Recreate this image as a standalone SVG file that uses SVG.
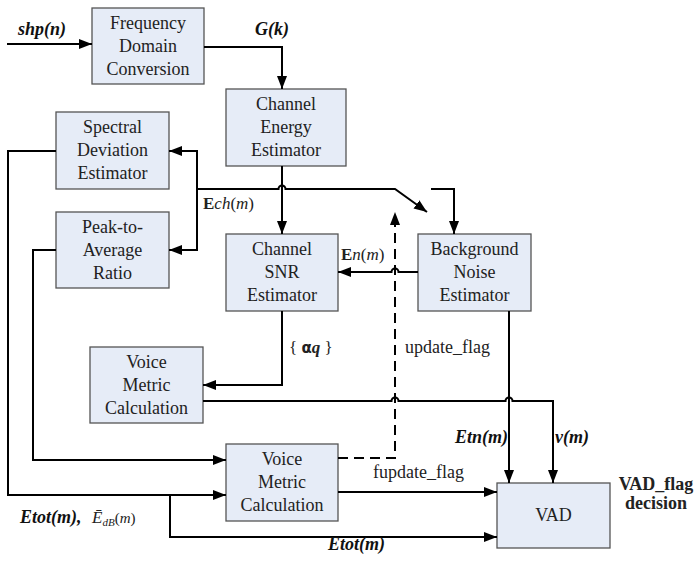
<svg xmlns="http://www.w3.org/2000/svg" width="698" height="561" viewBox="0 0 698 561">
<style>
text{font-family:'Liberation Serif','Times New Roman',Tinos,'DejaVu Serif',serif}
.box{fill:#E6ECF7;stroke:#555;stroke-width:1.3}
.bt{font-size:18px;fill:#222;text-anchor:middle}
.ln{fill:none;stroke:#000;stroke-width:2}
.dash{stroke-dasharray:10,6}
.lb{font-size:18px;font-weight:bold;font-style:italic;fill:#111}
.lr{font-size:18px;fill:#222}
.ls{font-size:17px;fill:#222}
</style>
<defs>
<marker id="ar" markerUnits="userSpaceOnUse" markerWidth="14" markerHeight="12" refX="13" refY="5" orient="auto">
<path d="M0,0 L13,5 L0,10 z" fill="#000"/>
</marker>
</defs>
<rect width="698" height="561" fill="#fff"/>

<g id="freq"><rect class="box" x="92" y="8" width="112" height="76"/>
<text class="bt" x="148" y="29">Frequency</text><text class="bt" x="148" y="52">Domain</text><text class="bt" x="148" y="75">Conversion</text></g>

<g id="energy"><rect class="box" x="226" y="89" width="120" height="77"/>
<text class="bt" x="286" y="110">Channel</text><text class="bt" x="286" y="133">Energy</text><text class="bt" x="286" y="156">Estimator</text></g>

<g id="spectral"><rect class="box" x="56" y="112" width="113" height="77"/>
<text class="bt" x="112.5" y="133">Spectral</text><text class="bt" x="112.5" y="156">Deviation</text><text class="bt" x="112.5" y="179">Estimator</text></g>

<g id="peak"><rect class="box" x="56" y="212" width="113" height="76"/>
<text class="bt" x="112.5" y="233">Peak-to-</text><text class="bt" x="112.5" y="256">Average</text><text class="bt" x="112.5" y="279">Ratio</text></g>

<g id="snr"><rect class="box" x="226" y="234" width="112" height="77"/>
<text class="bt" x="282" y="255">Channel</text><text class="bt" x="282" y="278">SNR</text><text class="bt" x="282" y="301">Estimator</text></g>

<g id="bne"><rect class="box" x="418" y="234" width="113" height="77"/>
<text class="bt" x="474.5" y="255">Background</text><text class="bt" x="474.5" y="278">Noise</text><text class="bt" x="474.5" y="301">Estimator</text></g>

<g id="vmc1"><rect class="box" x="90" y="347" width="113" height="76"/>
<text class="bt" x="146.5" y="368">Voice</text><text class="bt" x="146.5" y="391">Metric</text><text class="bt" x="146.5" y="414">Calculation</text></g>

<g id="vmc2"><rect class="box" x="226" y="444" width="112" height="77"/>
<text class="bt" x="282" y="465">Voice</text><text class="bt" x="282" y="488">Metric</text><text class="bt" x="282" y="511">Calculation</text></g>

<g id="vad"><rect class="box" x="497" y="483" width="113" height="65"/>
<text class="bt" x="553.5" y="521">VAD</text></g>

<g id="connectors">
<path class="ln" d="M7,44 H92" marker-end="url(#ar)"/>
<path class="ln" d="M204,47 H282 V89" marker-end="url(#ar)"/>
<path class="ln" d="M282,166 V234" marker-end="url(#ar)"/>
<path class="ln" d="M197,189 V151 H169" marker-end="url(#ar)"/>
<path class="ln" d="M197,189 V250 H169" marker-end="url(#ar)"/>
<path class="ln" d="M197,189 H278.5 a3.5,3.5 0 0 1 7,0 H395 L427,212" marker-end="url(#ar)"/>
<path class="ln" d="M431,189 H454 V234" marker-end="url(#ar)"/>
<path class="ln" d="M418,272 H398.5 a3.5,3.5 0 0 0 -7,0 H338" marker-end="url(#ar)"/>
<path class="ln dash" d="M338,458 H395 V212" marker-end="url(#ar)"/>
<path class="ln" d="M509,311 V483" marker-end="url(#ar)"/>
<path class="ln" d="M203,401 H391.5 a3.5,3.5 0 0 1 7,0 H505.5 a3.5,3.5 0 0 1 7,0 H553 V483" marker-end="url(#ar)"/>
<path class="ln" d="M282,311 V385 H203" marker-end="url(#ar)"/>
<path class="ln" d="M56,151 H8 V495 H226" marker-end="url(#ar)"/>
<path class="ln" d="M56,250 H33 V460 H226" marker-end="url(#ar)"/>
<path class="ln" d="M170,495 V537 H497" marker-end="url(#ar)"/>
<path class="ln" d="M338,492 H497" marker-end="url(#ar)"/>
</g>

<g id="labels">
<text class="lb" x="18" y="35">shp(n)</text>
<text class="lb" x="255" y="35">G(k)</text>
<text class="ls" x="203" y="209"><tspan font-weight="bold">E</tspan><tspan font-style="italic">ch</tspan>(<tspan font-style="italic">m</tspan>)</text>
<text class="ls" x="341" y="260"><tspan font-weight="bold">E</tspan><tspan font-style="italic">n</tspan>(<tspan font-style="italic">m</tspan>)</text>
<text class="ls" x="289" y="353">{ <tspan style="font-family:'DejaVu Sans',sans-serif" font-weight="bold" font-size="15">α</tspan><tspan font-weight="bold" font-style="italic">q</tspan> }</text>
<text class="lr" x="405" y="353">update_flag</text>
<text class="lr" x="373" y="478">fupdate_flag</text>
<text class="lb" x="455" y="443">Etn(m)</text>
<text class="lb" x="555" y="443">v(m)</text>
<text class="lr" x="656" y="490" text-anchor="middle" font-weight="bold">VAD_flag</text>
<text class="lr" x="656" y="509" text-anchor="middle" font-weight="bold">decision</text>
<text class="lb" x="20" y="523">Etot(m),</text>
<text class="ls" x="92" y="523" font-style="italic">Ē<tspan font-size="11" dy="3">dB</tspan><tspan font-style="normal" font-size="15" dy="-3">(</tspan><tspan font-size="15">m</tspan><tspan font-style="normal" font-size="15">)</tspan></text>
<text class="lb" x="328" y="550">Etot(m)</text>
</g>
</svg>
